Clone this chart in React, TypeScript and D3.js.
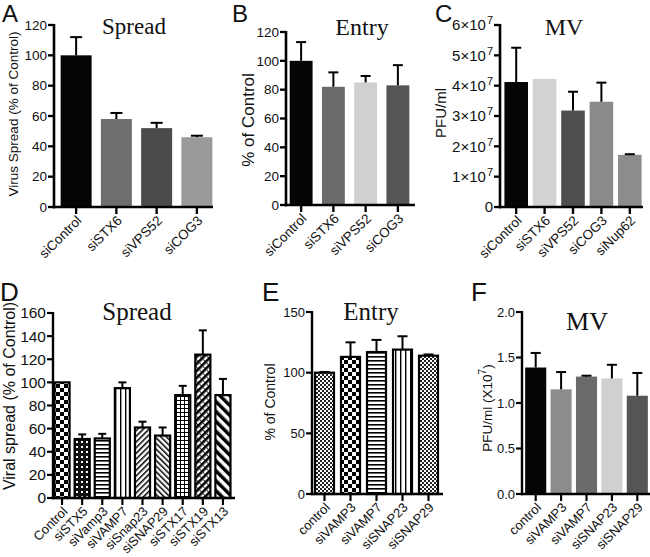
import React from 'react';
import * as d3 from 'd3';

// ---------- DATA ----------
const catsA = ['siControl', 'siSTX6', 'siVPS52', 'siCOG3'];
const valsA = [100, 58, 52, 46];
const errsA = [112, 62, 55.5, 47];
const ticksA = [0, 20, 40, 60, 80, 100, 120];

const catsB = ['siControl', 'siSTX6', 'siVPS52', 'siCOG3'];
const valsB = [100, 82, 85, 83];
const errsB = [113, 92, 89.5, 97];
const ticksB = [0, 20, 40, 60, 80, 100, 120];

const catsC = ['siControl', 'siSTX6', 'siVPS52', 'siCOG3', 'siNup62'];
const valsC = [4.12e7, 4.22e7, 3.18e7, 3.47e7, 1.72e7];
const errsC = [5.25e7, null, 3.8e7, 4.1e7, 1.74e7];
const ticksC = [0, 1e7, 2e7, 3e7, 4e7, 5e7, 6e7];

const catsD = ['Control', 'siSTX5', 'siVamp3', 'siVAMP7', 'siSnap23', 'siSNAP29', 'siSTX17', 'siSTX19', 'siSTX13'];
const valsD = [100, 51, 51.5, 95, 61, 54, 89, 124, 89];
const errsD = [null, 55, 55.5, 100, 66, 61, 97, 145, 103];
const ticksD = [0, 20, 40, 60, 80, 100, 120, 140, 160];

const catsE = ['control', 'siVAMP3', 'siVAMP7', 'siSNAP23', 'siSNAP29'];
const valsE = [100, 113, 117, 119, 114];
const errsE = [100.6, 125, 127, 130, 115];
const ticksE = [0, 50, 100, 150];

const catsF = ['control', 'siVAMP3', 'siVAMP7', 'siSNAP23', 'siSNAP29'];
const valsF = [1.39, 1.15, 1.29, 1.27, 1.08];
const errsF = [1.55, 1.34, 1.30, 1.42, 1.33];
const ticksF = [0, 0.5, 1.0, 1.5, 2.0];

// ---------- STYLES ----------
const fillsA = ['#050505', '#6e6e6e', '#4b4b4b', '#9a9a9a'];
const fillsB = ['#050505', '#6b6b6b', '#d0d0d0', '#555555'];
const fillsC = ['#050505', '#d2d2d2', '#4f4f4f', '#8a8a8a', '#8c8c8c'];
const fillsD = ['url(#checkL)', 'url(#checkS)', 'url(#hlines)', 'url(#vlines)', 'url(#diagF)', 'url(#diagB)', 'url(#grid)', 'url(#diagF2)', 'url(#diagB2)'];
const fillsE = ['url(#checkXS)', 'url(#checkL)', 'url(#hlines)', 'url(#vlines)', 'url(#checkXS)'];
const fillsF = ['#050505', '#8c8c8c', '#6a6a6a', '#d0d0d0', '#555555'];

const SANS = '"Liberation Sans", Arial, Helvetica, sans-serif';
const SERIF = '"Liberation Serif", "Times New Roman", Times, serif';

type PanelProps = {
  cats: string[]; vals: number[]; errs: (number | null)[]; fills: string[];
  ticks: number[]; fmt: (v: number) => React.ReactNode; domain: [number, number];
  ax: number; axEnd: number; r0: number; r1: number; pad: number; yt: number; yb: number;
  barStroke?: boolean; capW: number; axisW: number;
  title: string; titleX: number; titleY: number; titleSize: number;
  ylabel: React.ReactNode; ylabelX: number; ylabelY: number; ylabelSize: number;
  letter: string; letterX: number; letterY: number; letterSize: number;
  tickSize: number; xlabSize: number;
};

function Panel(p: PanelProps) {
  const x = d3.scaleBand<string>().domain(p.cats).range([p.r0, p.r1]).paddingInner(p.pad).paddingOuter(p.pad / 2);
  const y = d3.scaleLinear().domain(p.domain).range([p.yb, p.yt]);
  const bw = x.bandwidth();
  const y0 = y(0);
  return (
    <g>
      {p.cats.map((c, i) => (
        <rect key={'b' + c} x={x(c)!} y={y(p.vals[i])} width={bw} height={y0 - y(p.vals[i])}
          fill={p.fills[i]} stroke={p.barStroke ? '#000' : 'none'} strokeWidth={p.barStroke ? 2.2 : 0} />
      ))}
      {p.cats.map((c, i) => {
        const e = p.errs[i];
        if (e == null) return null;
        const cx = x(c)! + bw / 2;
        return (
          <g key={'e' + c} stroke="#000" strokeWidth={2}>
            <line x1={cx} x2={cx} y1={y(p.vals[i])} y2={y(e)} />
            <line x1={cx - p.capW / 2} x2={cx + p.capW / 2} y1={y(e)} y2={y(e)} />
          </g>
        );
      })}
      <line x1={p.ax} x2={p.ax} y1={y(p.domain[1]) - 1} y2={y0 + p.axisW / 2} stroke="#000" strokeWidth={p.axisW} />
      <line x1={p.ax - p.axisW / 2} x2={p.axEnd} y1={y0} y2={y0} stroke="#000" strokeWidth={p.axisW} />
      {p.ticks.map(t => (
        <g key={'t' + t}>
          <line x1={p.ax - 6} x2={p.ax} y1={y(t)} y2={y(t)} stroke="#000" strokeWidth={p.axisW * 0.9} />
          <text x={p.ax - 7} y={y(t)} dy="0.35em" textAnchor="end" fontFamily={SANS} fontSize={p.tickSize} fill="#111">{p.fmt(t)}</text>
        </g>
      ))}
      {p.cats.map(c => {
        const cx = x(c)! + bw / 2;
        return (
          <g key={'x' + c}>
            <line x1={cx} x2={cx} y1={y0} y2={y0 + 7} stroke="#000" strokeWidth={p.axisW * 0.9} />
            <text transform={`translate(${cx + 3},${y0 + 11}) rotate(-45)`} dy="0.35em" textAnchor="end"
              fontFamily={SANS} fontSize={p.xlabSize} fill="#111">{c}</text>
          </g>
        );
      })}
      <text x={p.titleX} y={p.titleY} textAnchor="middle" fontFamily={SERIF} fontSize={p.titleSize} fill="#111">{p.title}</text>
      <text transform={`translate(${p.ylabelX},${p.ylabelY}) rotate(-90)`} textAnchor="middle" dy="0.35em"
        fontFamily={SANS} fontSize={p.ylabelSize} fill="#111">{p.ylabel}</text>
      <text x={p.letterX} y={p.letterY} fontFamily={SANS} fontSize={p.letterSize} fill="#111">{p.letter}</text>
    </g>
  );
}

const intFmt = (v: number) => String(v);
const sciFmt = (v: number) => v === 0 ? '0' : (
  <>
    <tspan>{`${v / 1e7}×10`}</tspan>
    <tspan dy={-6} dx={1} fontSize={11}>7</tspan>
  </>
);
const decFmt = (v: number) => v.toFixed(1);

function Patterns() {
  return (
    <defs>
      <pattern id="checkL" width={8} height={8} patternUnits="userSpaceOnUse">
        <rect width={8} height={8} fill="#fff" />
        <rect x={0} y={0} width={4} height={4} fill="#000" />
        <rect x={4} y={4} width={4} height={4} fill="#000" />
      </pattern>
      <pattern id="checkS" width={5} height={5} patternUnits="userSpaceOnUse">
        <rect width={5} height={5} fill="#111" />
        <rect x={1} y={1} width={2} height={2} fill="#fff" />
      </pattern>
      <pattern id="checkXS" width={4} height={4} patternUnits="userSpaceOnUse">
        <rect width={4} height={4} fill="#fff" />
        <rect x={0} y={0} width={2} height={2} fill="#222" />
        <rect x={2} y={2} width={2} height={2} fill="#222" />
      </pattern>
      <pattern id="hlines" width={4} height={4} patternUnits="userSpaceOnUse">
        <rect width={4} height={4} fill="#fff" />
        <rect x={0} y={0} width={4} height={1.6} fill="#000" />
      </pattern>
      <pattern id="vlines" width={5} height={5} patternUnits="userSpaceOnUse">
        <rect width={5} height={5} fill="#fff" />
        <rect x={0} y={0} width={1.4} height={5} fill="#000" />
      </pattern>
      <pattern id="diagF" width={4} height={4} patternUnits="userSpaceOnUse" patternTransform="rotate(45)">
        <rect width={4} height={4} fill="#fff" />
        <rect x={0} y={0} width={1.5} height={4} fill="#000" />
      </pattern>
      <pattern id="diagB" width={4} height={4} patternUnits="userSpaceOnUse" patternTransform="rotate(-45)">
        <rect width={4} height={4} fill="#fff" />
        <rect x={0} y={0} width={1.5} height={4} fill="#000" />
      </pattern>
      <pattern id="grid" width={4} height={4} patternUnits="userSpaceOnUse">
        <rect width={4} height={4} fill="#fff" />
        <rect x={0} y={0} width={4} height={1} fill="#000" />
        <rect x={0} y={0} width={1} height={4} fill="#000" />
      </pattern>
      <pattern id="diagF2" width={5} height={5} patternUnits="userSpaceOnUse" patternTransform="rotate(45)">
        <rect width={5} height={5} fill="#fff" />
        <rect x={0} y={0} width={2.6} height={5} fill="#000" />
        <rect x={2.6} y={0} width={2.4} height={0.8} fill="#000" />
      </pattern>
      <pattern id="diagB2" width={7} height={7} patternUnits="userSpaceOnUse" patternTransform="rotate(-45)">
        <rect width={7} height={7} fill="#fff" />
        <rect x={0} y={0} width={3.5} height={7} fill="#000" />
      </pattern>
    </defs>
  );
}

export default function App() {
  return (
    <svg width={650} height={557} style={{ position: 'absolute', left: 0, top: 0, background: '#fff' }}>
      <Patterns />
      <Panel cats={catsA} vals={valsA} errs={errsA} fills={fillsA} ticks={ticksA} fmt={intFmt} domain={[0, 120]}
        ax={54} axEnd={213} r0={56} r1={217} pad={0.23} yt={25} yb={207} capW={12} axisW={2.6}
        title="Spread" titleX={134} titleY={34} titleSize={23}
        ylabel="Virus Spread (% of Control)" ylabelX={13} ylabelY={114} ylabelSize={13.5}
        letter="A" letterX={2} letterY={22} letterSize={24} tickSize={13.5} xlabSize={13.5} />
      <Panel cats={catsB} vals={valsB} errs={errsB} fills={fillsB} ticks={ticksB} fmt={intFmt} domain={[0, 120]}
        ax={286} axEnd={415} r0={285} r1={414} pad={0.29} yt={32} yb={205} capW={10} axisW={2.6}
        title="Entry" titleX={362} titleY={35} titleSize={24}
        ylabel="% of Control" ylabelX={248} ylabelY={120} ylabelSize={17}
        letter="B" letterX={232} letterY={22} letterSize={24} tickSize={13.5} xlabSize={13.5} />
      <Panel cats={catsC} vals={valsC} errs={errsC} fills={fillsC} ticks={ticksC} fmt={sciFmt} domain={[0, 6e7]}
        ax={500} axEnd={643} r0={502} r1={644} pad={0.17} yt={25} yb={207} capW={10} axisW={2.6}
        title="MV" titleX={564} titleY={35} titleSize={24}
        ylabel="PFU/ml" ylabelX={441} ylabelY={113} ylabelSize={15}
        letter="C" letterX={435} letterY={22} letterSize={24} tickSize={15} xlabSize={13.5} />
      <Panel cats={catsD} vals={valsD} errs={errsD} fills={fillsD} ticks={ticksD} fmt={intFmt} domain={[0, 160]}
        ax={53} axEnd={235} r0={52} r1={233} pad={0.25} yt={313} yb={498} capW={8} axisW={2.4} barStroke
        title="Spread" titleX={137} titleY={320} titleSize={25}
        ylabel="Viral spread (% of Control)" ylabelX={9} ylabelY={396} ylabelSize={16}
        letter="D" letterX={0} letterY={301} letterSize={26} tickSize={15.5} xlabSize={13} />
      <Panel cats={catsE} vals={valsE} errs={errsE} fills={fillsE} ticks={ticksE} fmt={intFmt} domain={[0, 150]}
        ax={312} axEnd={443} r0={311.5} r1={441.5} pad={0.27} yt={312} yb={494} capW={10} axisW={2.4} barStroke
        title="Entry" titleX={371} titleY={320} titleSize={25}
        ylabel="% of Control" ylabelX={270} ylabelY={402} ylabelSize={14}
        letter="E" letterX={262} letterY={301} letterSize={26} tickSize={13} xlabSize={13} />
      <Panel cats={catsF} vals={valsF} errs={errsF} fills={fillsF} ticks={ticksF} fmt={decFmt} domain={[0, 2]}
        ax={522} axEnd={650} r0={523} r1={650} pad={0.17} yt={312} yb={494} capW={10} axisW={2.4}
        title="MV" titleX={587} titleY={330} titleSize={26}
        ylabel={<>
          <tspan>PFU/ml (X10</tspan><tspan dy={-6} fontSize={10}>7</tspan><tspan dy={6}>)</tspan>
        </>} ylabelX={487} ylabelY={408} ylabelSize={13.5}
        letter="F" letterX={471} letterY={301} letterSize={26} tickSize={13} xlabSize={13} />
    </svg>
  );
}
